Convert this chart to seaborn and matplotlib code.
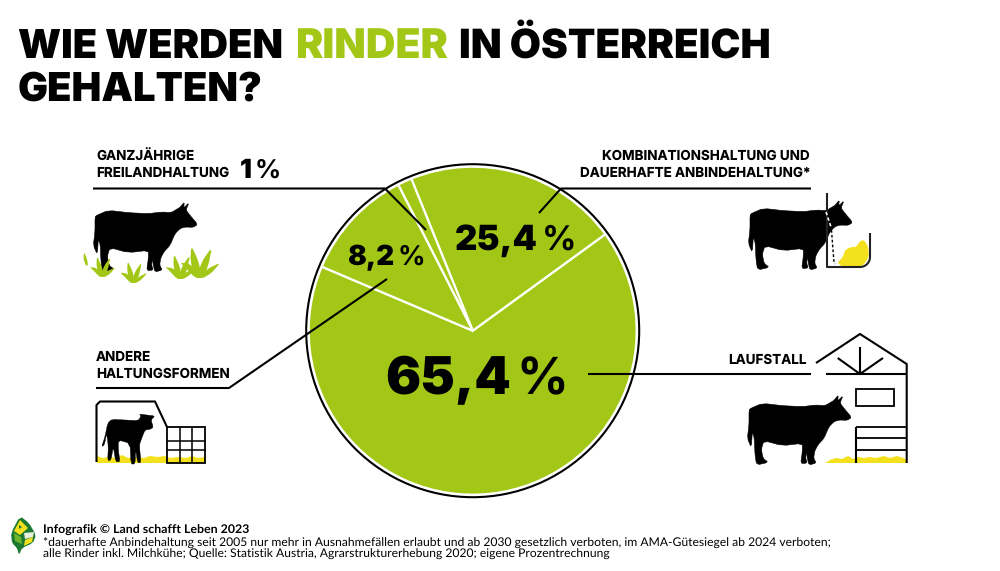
import matplotlib
matplotlib.use('Agg')
import matplotlib.pyplot as plt
import numpy as np
import seaborn as sns
from matplotlib.patches import Circle, Polygon, Rectangle

# drawn wedge shares (the original pie is not to scale)
categories = ['Laufstall', 'Kombinationshaltung', 'Freiland', 'Andere']
drawn_shares = [66.4, 21.1, 1.4, 11.1]
share_labels = ['65,4', '25,4', '1', '8,2']

GREEN = '#a3c716'
YELLOW = '#f4e11d'
HEAVY = ['Inter', 'DejaVu Sans']
LATO = ['Lato', 'DejaVu Sans']

sns.set_theme(style='white')
plt.rcParams['font.family'] = LATO
plt.rcParams['text.hinting'] = 'no_hinting'
plt.rcParams['text.hinting_factor'] = 8

fig = plt.figure(figsize=(10, 5.71), dpi=100)

# pie sits in its own axes, exactly 2 * radius pixels wide
cx, cy, r = 472.7, 330.7, 164
ax_pie = fig.add_axes([(cx - r) / 1000, 1 - (cy + r) / 571, 2 * r / 1000, 2 * r / 571])
ax_pie.pie(
    drawn_shares,
    colors=sns.color_palette([GREEN], len(drawn_shares)),
    startangle=157,
    radius=1,
    wedgeprops={'edgecolor': 'white', 'linewidth': 1.6},
)
ax_pie.set_xlim(-1, 1)
ax_pie.set_ylim(-1, 1)
ax_pie.axis('off')

# everything else in pixel coordinates
ax = fig.add_axes([0, 0, 1, 1], facecolor='none')
ax.set_xlim(0, 1000)
ax.set_ylim(571, 0)
ax.axis('off')
ax.add_patch(Circle((cx, cy), 166.5, fill=False, ec='black', lw=1.5))


def line(xs, ys, lw=1.5, color='black', **kw):
    ax.plot(xs, ys, color=color, lw=lw, solid_capstyle='butt', **kw)


def text(x, y, s, size, weight='black', color='black', family=None, **kw):
    return ax.text(x, y, s, fontsize=size, fontweight=weight, color=color, va='baseline',
                   family=family or HEAVY, **kw)


def share_text(x, y, label, size):
    # number is heavy, the percent sign clearly lighter
    t = text(x, y, label, size)
    bb = t.get_window_extent(fig.canvas.get_renderer())
    text(bb.x1 + size * 0.15, y, '%', size * 0.98, weight='bold')


def smooth(points, rounds=2):
    # chaikin corner cutting so the traced outlines do not look faceted
    pts = np.asarray(points, dtype=float)
    for _ in range(rounds):
        nxt = np.roll(pts, -1, axis=0)
        pts = np.column_stack([0.8 * pts + 0.2 * nxt, 0.2 * pts + 0.8 * nxt]).reshape(-1, 2)
    return pts


text(18, 58, 'WIE WERDEN', 28.7)
text(295, 58, 'RINDER', 29.5, color=GREEN)
text(459, 58, 'IN ÖSTERREICH', 29)
text(18, 101, 'GEHALTEN?', 28.7)

# leader lines
line([93, 385, 426], [188.5, 188.5, 230])
line([811, 561, 539], [188.5, 188.5, 213])
line([96, 229, 387], [388, 388, 279])
line([588, 811], [374.3, 374.3])

# labels
LABEL = {'size': 9.7, 'weight': 'bold'}
text(96, 160, 'GANZJÄHRIGE', **LABEL)
text(96, 177, 'FREILANDHALTUNG', **LABEL)
text(810, 160, 'KOMBINATIONSHALTUNG UND', ha='right', **LABEL)
text(810, 177, 'DAUERHAFTE ANBINDEHALTUNG*', ha='right', **LABEL)
text(96, 361, 'ANDERE', **LABEL)
text(96, 378, 'HALTUNGSFORMEN', **LABEL)
text(807, 364, 'LAUFSTALL', ha='right', **LABEL)
share_text(385, 394, share_labels[0], 37.5)
share_text(455, 250, share_labels[1], 25)
share_text(240, 178, share_labels[2], 19)
share_text(347, 265, share_labels[3], 20)

# cow silhouette, traced in px
COW = np.array([
    (95, 100), (130, 85), (190, 92), (250, 95), (290, 90), (318, 92), (335, 82), (345, 76), (358, 60),
    (356, 78), (372, 62), (363, 84), (375, 100), (398, 127), (385, 136), (360, 135), (345, 140),
    (330, 155), (315, 190), (298, 208), (287, 228), (284, 250), (292, 264), (270, 270), (265, 250),
    (262, 228), (260, 250), (265, 264), (245, 266), (250, 230), (250, 205), (190, 212), (135, 197),
    (127, 222), (132, 250), (148, 262), (113, 270), (108, 240), (106, 190), (100, 170), (97, 218),
    (85, 190), (90, 150), (90, 105),
]) / 3.0


def cow(x, y):
    ax.add_patch(Polygon(smooth(COW, 1) + (x, y), closed=True, fc='black', ec='black', lw=0.4, joinstyle='round'))


cow(65, 182)
cow(720, 180)
cow(719, 375)

# grass: a few narrow blades per tuft
BLADES = [
    [(-0.12, 0), (-0.4, -0.3), (-0.62, -0.5), (-0.28, -0.45), (0.03, -0.1)],
    [(-0.12, 0), (-0.28, -0.55), (-0.25, -1.05), (-0.02, -0.55), (0.1, 0)],
    [(-0.08, 0), (0.1, -0.55), (0.42, -1.0), (0.3, -0.4), (0.12, 0)],
    [(-0.05, 0), (0.28, -0.3), (0.7, -0.5), (0.4, -0.16), (0.14, 0)],
]
for gx, gy, gs in [(102, 277, 20), (133, 283, 21), (180, 279, 24), (199, 278, 31)]:
    for blade in BLADES:
        ax.add_patch(Polygon(smooth(np.array(blade) * gs + (gx, gy), 1), closed=True, fc=GREEN, ec='none'))
ax.add_patch(Polygon(smooth([(86, 266), (83.5, 259), (84, 252), (87, 259), (88, 265)], 1), closed=True, fc=GREEN, ec='none'))

# stall with feed
line([826.7, 826.7, 860], [193, 267, 267], color='#222222')
t = np.linspace(0, np.pi / 2, 12)
line(860 + 10 * np.sin(t), 257 + 10 * np.cos(t), color='#222222')
line([870, 870], [257, 233], color='#222222')
ax.add_patch(Polygon(smooth([(837, 263), (843, 257), (845, 250), (851, 247), (856, 247), (860, 241), (864, 240),
                             (868, 246), (869, 257), (862, 267), (845, 268)], 2), closed=True, fc=YELLOW, ec='none'))
line([831.5, 833, 834, 835], [230, 250, 262, 264], lw=1, ls=(0, (2, 1.5)))
line([826, 831], [212, 227], lw=1.2, color='white', ls=(0, (2, 1.5)))

# barn
line([816, 860, 906.7, 906.7], [363, 334, 364, 463])
line([825.7, 906.7], [374.3, 374.3])
line([860, 860], [347, 374])
line([837.7, 860, 883], [358, 374, 358])
ax.add_patch(Rectangle((855.7, 389), 38.6, 16.7, fill=False, ec='black', lw=1.3))
line([855.7, 855.7], [427, 463])
for fy in (427, 438, 450):
    line([855.7, 906.7], [fy, fy], lw=1.3)
straw = [(825, 463), (830, 460), (836, 458), (842, 459), (848, 456), (853, 459), (858, 457), (864, 458), (870, 457),
         (876, 458), (884, 456), (890, 458), (897, 456), (906, 459), (906, 463)]
ax.add_patch(Polygon(straw, closed=True, fc=YELLOW, ec='none'))

# calf shelter
line([96.5, 96.5, 100, 155, 167], [462, 405, 401.5, 401.5, 427])
ax.add_patch(Polygon([(97, 463), (97, 456), (102, 458), (110, 457), (116, 458), (122, 455), (128, 458), (135, 457),
                      (144, 458), (150, 456), (158, 457), (164, 456), (170, 458), (178, 457), (186, 458),
                      (192, 456), (198, 458), (205, 457), (205, 463)], closed=True, fc=YELLOW, ec='none'))
ax.add_patch(Rectangle((167, 427), 38, 35.5, fill=False, ec='black', lw=1.3))
line([179.5, 179.5], [427, 462], lw=1.1)
line([192, 192], [427, 462], lw=1.1)
line([167, 205], [441, 441], lw=1.1)
line([167, 205], [450, 450], lw=1.1)
CALF = np.array([
    (68, 100), (80, 88), (120, 90), (160, 92), (168, 78), (163, 72), (185, 75), (210, 78), (198, 90), (205, 112),
    (195, 118), (180, 120), (170, 145), (163, 165), (168, 218), (158, 218), (152, 180), (150, 222), (138, 222),
    (135, 160), (100, 150), (100, 180), (105, 215), (92, 215), (85, 170), (78, 210), (68, 212), (70, 170),
    (65, 130), (58, 165), (50, 170), (60, 140),
]) / 3.0 + (85, 390)
ax.add_patch(Polygon(smooth(CALF, 1), closed=True, fc='black', ec='black', lw=0.3))

# logo
ax.add_patch(Polygon(smooth([(20, 516), (29, 523), (36, 535), (33, 543), (22, 548), (19, 555), (17, 548), (12, 543),
                             (11, 533)], 1), closed=True, fc='#1b7a30', ec='none'))
ax.add_patch(Polygon([(20, 520), (28, 528), (20, 535), (14, 531)], closed=True, fc=YELLOW, ec='none'))
ax.add_patch(Polygon([(19, 525), (22, 527), (19, 529)], closed=True, fc='#1b7a30', ec='none'))
ax.add_patch(Polygon([(14, 533), (21, 537), (22, 544), (15, 541)], closed=True, fc='#6fb52c', ec='none'))
ax.add_patch(Polygon([(24, 533), (34, 532), (33, 537), (25, 539)], closed=True, fc='#e8efdc', ec='none'))
ax.add_patch(Polygon([(24, 546), (25, 540), (33, 537), (32, 542)], closed=True, fc=YELLOW, ec='none'))

# footer
text(43, 534, 'Infografik © Land schafft Leben 2023', 8.9, weight='bold', family=LATO)
text(43, 546, '*dauerhafte Anbindehaltung seit 2005 nur mehr in Ausnahmefällen erlaubt und ab 2030 gesetzlich '
              'verboten, im AMA-Gütesiegel ab 2024 verboten;', 8.77, weight='normal', family=LATO)
text(43, 558, 'alle Rinder inkl. Milchkühe; Quelle: Statistik Austria, Agrarstrukturerhebung 2020; eigene '
              'Prozentrechnung', 8.77, weight='normal', family=LATO)

fig.savefig('out.png', dpi=100)
